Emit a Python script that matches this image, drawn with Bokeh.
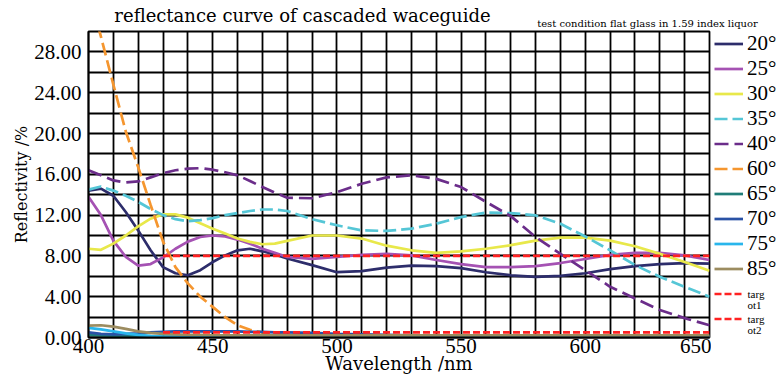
from bokeh.plotting import figure
from bokeh.layouts import column, row
from bokeh.models import Label, Legend, LegendItem, FixedTicker, PrintfTickFormatter, Range1d
from bokeh.embed import file_html
from bokeh.resources import INLINE

# ---------------- data ----------------
wavelength = [400, 405, 410, 415, 420, 425, 430, 435, 440, 445, 450, 455, 460, 465, 470, 475, 480,
              490, 500, 510, 520, 530, 540, 550, 560, 570, 580, 590, 600, 610, 620, 630, 640, 650]

r20 = [14.4, 14.6, 13.9, 12.3, 10.5, 8.55, 6.9, 6.3, 6.1, 6.6, 7.4, 8.05, 8.55, 8.7, 8.45, 8.15, 7.75,
       7.1, 6.4, 6.5, 6.85, 7.05, 7.0, 6.8, 6.4, 6.1, 5.95, 6.05, 6.3, 6.7, 7.0, 7.2, 7.3, 7.25]
r25 = [13.8, 12.0, 9.5, 7.9, 7.05, 7.2, 7.85, 8.7, 9.4, 9.85, 10.0, 9.9, 9.6, 9.2, 8.7, 8.3, 7.9,
       7.7, 7.9, 8.1, 8.2, 8.05, 7.6, 7.2, 6.9, 6.9, 7.0, 7.3, 7.7, 8.1, 8.3, 8.3, 8.05, 7.6]
r30 = [8.7, 8.6, 9.2, 10.0, 10.9, 11.65, 12.07, 12.07, 11.75, 11.2, 10.67, 10.2, 9.7, 9.37, 9.14, 9.2, 9.47,
       10.0, 10.0, 9.7, 9.0, 8.55, 8.3, 8.45, 8.7, 9.05, 9.5, 9.8, 9.8, 9.5, 8.95, 8.2, 7.4, 6.55]
r35 = [14.5, 14.8, 14.4, 13.9, 13.3, 12.6, 12.0, 11.6, 11.4, 11.5, 11.7, 12.0, 12.2, 12.4, 12.55, 12.55, 12.4,
       11.6, 11.0, 10.5, 10.45, 10.67, 11.15, 11.8, 12.25, 12.2, 11.97, 11.15, 9.9, 8.55, 7.1, 5.95, 4.97, 4.0]
r40 = [16.4, 15.9, 15.4, 15.2, 15.3, 15.7, 16.1, 16.4, 16.55, 16.6, 16.45, 16.2, 15.9, 15.35, 14.75, 14.2, 13.7,
       13.65, 14.25, 15.07, 15.7, 15.9, 15.55, 14.75, 13.3, 11.9, 9.85, 8.2, 6.6, 4.97, 3.83, 2.7, 1.9, 1.2]
r60 = [34.0, 29.5, 24.8, 20.2, 16.7, 13.0, 9.4, 6.9, 5.3, 4.0, 3.0, 2.0, 1.2, 0.75, 0.5, 0.35, 0.25,
       0.2, 0.2, 0.15, 0.15, 0.15, 0.15, 0.15, 0.15, 0.15, 0.15, 0.15, 0.15, 0.15, 0.15, 0.15, 0.15, 0.15]
r65 = [0.25, 0.2, 0.18, 0.15, 0.12, 0.1, 0.1, 0.1, 0.1, 0.1, 0.1, 0.1, 0.1, 0.1, 0.1, 0.1, 0.1,
       0.1, 0.1, 0.1, 0.1, 0.1, 0.1, 0.1, 0.1, 0.1, 0.1, 0.1, 0.1, 0.1, 0.1, 0.1, 0.1, 0.1]
r70 = [0.5, 0.35, 0.3, 0.35, 0.4, 0.5, 0.55, 0.6, 0.6, 0.6, 0.6, 0.6, 0.6, 0.55, 0.55, 0.5, 0.5,
       0.45, 0.35, 0.3, 0.25, 0.2, 0.15, 0.15, 0.12, 0.1, 0.1, 0.1, 0.1, 0.1, 0.1, 0.1, 0.1, 0.1]
r75 = [0.95, 0.8, 0.6, 0.4, 0.25, 0.15, 0.1, 0.08, 0.08, 0.08, 0.08, 0.08, 0.08, 0.08, 0.08, 0.08, 0.08,
       0.08, 0.08, 0.08, 0.08, 0.08, 0.08, 0.08, 0.08, 0.08, 0.08, 0.08, 0.08, 0.08, 0.08, 0.08, 0.08, 0.08]
r85 = [1.17, 1.2, 1.07, 0.85, 0.6, 0.45, 0.35, 0.3, 0.25, 0.25, 0.22, 0.2, 0.2, 0.2, 0.2, 0.2, 0.2,
       0.2, 0.2, 0.2, 0.2, 0.2, 0.2, 0.2, 0.2, 0.2, 0.2, 0.2, 0.2, 0.2, 0.2, 0.2, 0.2, 0.2]

target_wavelength = [430, 650]
target1 = [8.0, 8.0]
target2 = [0.5, 0.5]

series_labels = ["20°", "25°", "30°", "35°", "40°", "60°", "65°", "70°", "75°", "85°"]
target_labels = [("targ", "ot1"), ("targ", "ot2")]
x_ticks = [400, 450, 500, 550, 600, 650]
y_ticks = [0, 4, 8, 12, 16, 20, 24, 28]

title_text = "reflectance curve of cascaded waceguide"
subtitle_text = "test condition flat glass in 1.59 index liquor"

# ---------------- styles ----------------
WIDE = "DejaVu Serif"
TIMES = "Liberation Serif"
colors = ["#2d2d6b", "#a552b3", "#e8e84a", "#55c6d6", "#6b2d8a",
          "#f5962f", "#1f7d78", "#2a52a5", "#29b6ec", "#9c8c60"]
dashes = ["solid", "solid", "solid", "13 5", "14 6", "13 5", "solid", "solid", "solid", "solid"]
TARGET_COLOR = "#ff2222"
TARGET_DASH = "7 3"
LW = 2.7

values = [r20, r25, r30, r35, r40, r60, r65, r70, r75, r85]

# ---------------- header figure (title + subtitle) ----------------
head = figure(width=780, height=29, x_range=Range1d(0, 780), y_range=Range1d(29, 0),
              output_backend="svg", toolbar_location=None, min_border=0,
              x_axis_location=None, y_axis_location=None)
head.grid.visible = False
head.outline_line_color = None
head.add_layout(Label(x=302, y=15, text=title_text, text_align="center", text_baseline="middle",
                      text_font=WIDE, text_font_size="18px", text_color="black"))
head.add_layout(Label(x=647, y=23, text=subtitle_text, text_align="center", text_baseline="middle",
                      text_font=WIDE, text_font_size="10px", text_color="black"))

# ---------------- main figure ----------------
p = figure(width=711, height=353, x_range=Range1d(400, 650), y_range=Range1d(0, 30),
           output_backend="svg", toolbar_location=None,
           min_border_left=88, min_border_right=2, min_border_top=2, min_border_bottom=45)
p.background_fill_color = "white"
p.outline_line_color = "black"
p.outline_line_width = 1.8

p.xaxis.ticker = FixedTicker(ticks=x_ticks)
p.yaxis.ticker = FixedTicker(ticks=y_ticks)
p.xgrid.ticker = FixedTicker(ticks=list(range(400, 651, 10)))
p.ygrid.ticker = FixedTicker(ticks=list(range(0, 31, 2)))
for g in (p.xgrid, p.ygrid):
    g.grid_line_color = "black"
    g.grid_line_width = 1.8
    g.grid_line_alpha = 1.0

p.yaxis.formatter = PrintfTickFormatter(format="%.2f")
for ax in (p.xaxis, p.yaxis):
    ax.axis_line_color = "black"
    ax.axis_line_width = 1.8
    ax.major_tick_out = 0
    ax.major_tick_in = 0
    ax.minor_tick_out = 0
    ax.minor_tick_in = 0
    ax.major_label_text_font = TIMES
    ax.major_label_text_font_size = "21px"
    ax.major_label_text_color = "black"
    ax.axis_label_text_font = WIDE
    ax.axis_label_text_font_style = "normal"
    ax.axis_label_text_color = "black"

p.xaxis.major_label_standoff = 1
p.xaxis.axis_label = "Wavelength /nm"
p.xaxis.axis_label_text_font_size = "18px"
p.xaxis.axis_label_standoff = -3
p.yaxis.major_label_standoff = 7
p.yaxis.axis_label = "Reflectivity /%"
p.yaxis.axis_label_text_font_size = "16px"
p.yaxis.axis_label_standoff = 0

for col, dsh, ys in zip(colors, dashes, values):
    p.line(wavelength, ys, line_color=col, line_width=LW, line_dash=dsh)
p.line(target_wavelength, target1, line_color=TARGET_COLOR, line_width=LW, line_dash=TARGET_DASH)
p.line(target_wavelength, target2, line_color=TARGET_COLOR, line_width=LW, line_dash=TARGET_DASH)

# ---------------- legend figure ----------------
# Its frame gets aligned with the main frame (page y 31..337), so its ranges use page pixels.
LEG_W = 69
FRAME_TOP, FRAME_BOTTOM = 31, 337
LEG_X0 = 711
leg = figure(width=LEG_W, height=353,
             x_range=Range1d(LEG_X0, LEG_X0 + LEG_W), y_range=Range1d(FRAME_BOTTOM, FRAME_TOP),
             output_backend="svg", toolbar_location=None, min_border_left=0, min_border_right=0,
             min_border_top=2, min_border_bottom=45,
             x_axis_location=None, y_axis_location=None)
leg.grid.visible = False
leg.outline_line_color = None

ITEM_H = 25
LEGEND_TOP = 31
items = []
# the legend renderers carry the same series, out of this panel's visible range
for lab, col, dsh, ys in zip(series_labels, colors, dashes, values):
    r = leg.line(wavelength, ys, line_color=col, line_width=LW, line_dash=dsh)
    items.append(LegendItem(label=lab, renderers=[r]))
for tv in (target1, target2):
    r = leg.line(target_wavelength, tv, line_color=TARGET_COLOR, line_width=LW, line_dash=TARGET_DASH)
    items.append(LegendItem(label=" ", renderers=[r]))

legend_height = len(items) * ITEM_H
legend = Legend(items=items, location=(3, (FRAME_BOTTOM - LEGEND_TOP) - legend_height),
                orientation="vertical",
                border_line_color=None, background_fill_alpha=0.0,
                padding=0, margin=0, spacing=0, glyph_width=29, glyph_height=ITEM_H,
                label_height=ITEM_H, label_standoff=4,
                label_text_font=TIMES, label_text_font_size="21px", label_text_color="black")
leg.add_layout(legend)

for k, (l1, l2) in enumerate(target_labels):
    cy = LEGEND_TOP + (len(series_labels) + k) * ITEM_H + ITEM_H / 2
    for txt, yy in ((l1, cy), (l2, cy + 10.5)):
        leg.add_layout(Label(x=747, y=yy, text=txt, text_align="left", text_baseline="middle",
                             text_font=TIMES, text_font_size="11px", text_color="black"))

layout = column(head, row(p, leg))
open("out.html", "w").write(file_html(layout, INLINE))
